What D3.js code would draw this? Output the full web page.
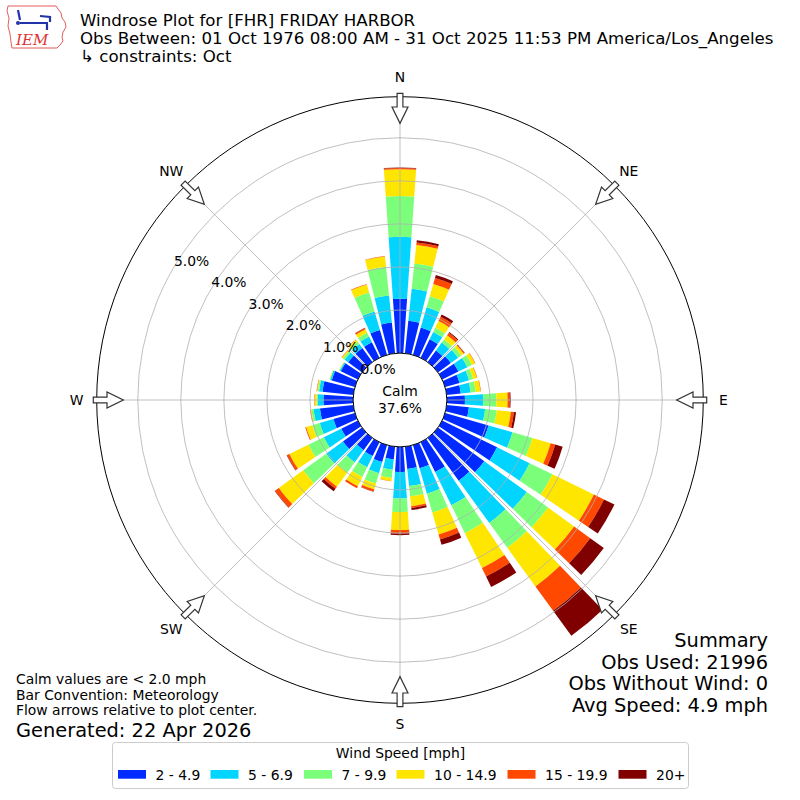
<!DOCTYPE html>
<html>
<head>
<meta charset="utf-8">
<script src="https://cdn.jsdelivr.net/npm/d3@7"></script>
<style>
  body { margin: 0; background: #fff; }
  svg { display: block; font-family: "DejaVu Sans", sans-serif; }
</style>
</head>
<body>
<svg id="chart" width="800" height="800"></svg>
<script>
// direction bins (deg, meteorological: where the wind comes from)
var directions = d3.range(0, 360, 10);
var speedBins = ['2 - 4.9', '5 - 6.9', '7 - 9.9', '10 - 14.9', '15 - 19.9', '20+'];
var binColors = ['#002aff', '#00d4ff', '#7bff7b', '#ffe600', '#ff4800', '#800000'];

// percent of obs per direction, one array per speed bin
var spd2to5 = [1.26, 0.76, 0.66, 0.48, 0.33, 0.37, 0.42, 0.35, 0.33, 0.42, 0.52, 1.05,
               1.42, 1.33, 1.23, 0.77, 0.56, 0.52, 0.58, 0.30, 0.41, 0.36, 0.35, 0.55,
               0.43, 0.52, 0.78, 0.69, 0.72, 0.56, 0.44, 0.40, 0.40, 0.40, 0.60, 0.72];
var spd5to7 = [1.44, 0.75, 0.49, 0.19, 0.23, 0.21, 0.23, 0.23, 0.23, 0.43, 0.38, 0.58,
               0.84, 1.22, 1.21, 0.86, 0.61, 0.40, 0.62, 0.24, 0.27, 0.29, 0.35, 0.48,
               0.45, 0.33, 0.15, 0.13, 0.08, 0.04, 0.03, 0.10, 0.12, 0.15, 0.45, 0.63];
var spd7to10 = [0.95, 0.59, 0.27, 0.11, 0.09, 0.09, 0.12, 0.10, 0.12, 0.30, 0.27, 0.48,
                0.59, 0.61, 0.71, 0.72, 0.46, 0.24, 0.31, 0.19, 0.25, 0.25, 0.29, 0.66,
                0.40, 0.18, 0.05, 0.03, 0.03, 0.01, 0.01, 0.05, 0.06, 0.10, 0.46, 0.67];
var spd10to15 = [0.62, 0.43, 0.29, 0.17, 0.12, 0.07, 0.08, 0.09, 0.11, 0.26, 0.33, 0.44,
                 1.07, 0.75, 1.11, 0.90, 0.53, 0.23, 0.42, 0.07, 0.14, 0.24, 0.41, 0.70,
                 0.49, 0.15, 0.02, 0.04, 0.02, 0.01, 0.01, 0.03, 0.06, 0.09, 0.19, 0.24];
var spd15to20 = [0.03, 0.06, 0.15, 0.11, 0.07, 0.02, 0.01, 0.01, 0.01, 0.05, 0.07, 0.11,
                 0.26, 0.46, 0.70, 0.22, 0.12, 0.04, 0.08, 0.01, 0.05, 0.05, 0.06, 0.11,
                 0.06, 0.02, 0.01, 0.01, 0.01, 0.00, 0.00, 0.01, 0.01, 0.03, 0.01, 0.01];
var spd20up = [0.01, 0.05, 0.07, 0.06, 0.02, 0.01, 0.00, 0.00, 0.00, 0.02, 0.05, 0.18,
               0.27, 0.39, 0.72, 0.27, 0.13, 0.05, 0.04, 0.00, 0.01, 0.00, 0.07, 0.01,
               0.01, 0.00, 0.00, 0.00, 0.00, 0.00, 0.00, 0.00, 0.00, 0.01, 0.00, 0.00];
var series = [spd2to5, spd5to7, spd7to10, spd10to15, spd15to20, spd20up];

var ringTicks = [0, 1, 2, 3, 4, 5];
var compassLabels = ['N', 'NE', 'E', 'SE', 'S', 'SW', 'W', 'NW'];
var calmPct = 37.6;

var titleLines = ['Windrose Plot for [FHR] FRIDAY HARBOR',
                  'Obs Between: 01 Oct 1976 08:00 AM - 31 Oct 2025 11:53 PM America/Los_Angeles',
                  '\u21b3 constraints: Oct'];
var noteLines = ['Calm values are < 2.0 mph', 'Bar Convention: Meteorology',
                 'Flow arrows relative to plot center.'];
var summaryLines = ['Summary', 'Obs Used: 21996', 'Obs Without Wind: 0', 'Avg Speed: 4.9 mph'];

var svg = d3.select('#chart');
var cx = 400, cy = 400, rMax = 5.953;
var r = d3.scaleLinear().domain([0, rMax]).range([46.9, 303.3]);
var rad = function(deg) { return deg * Math.PI / 180; };

var g = svg.append('g').attr('transform', 'translate(' + cx + ',' + cy + ')');

// stack the bins per direction
var stacked = [];
directions.forEach(function(dir, i) {
  var y0 = 0;
  series.forEach(function(s, k) {
    stacked.push({dir: dir, bin: k, y0: y0, y1: y0 + s[i]});
    y0 += s[i];
  });
});

var arc = d3.arc()
  .startAngle(function(d) { return rad(d.dir - 4); })
  .endAngle(function(d) { return rad(d.dir + 4); })
  .innerRadius(function(d) { return r(d.y0); })
  .outerRadius(function(d) { return r(d.y1); });

g.append('g').selectAll('path')
  .data(stacked.filter(function(d) { return d.y1 > d.y0; }))
  .enter().append('path')
  .attr('d', arc)
  .attr('fill', function(d) { return binColors[d.bin]; });

// grid on top of the bars
var grid = g.append('g').attr('fill', 'none').attr('stroke', '#b0b0b0').attr('stroke-width', 0.8);
grid.selectAll('circle').data(ringTicks.slice(1)).enter().append('circle')
  .attr('r', function(d) { return r(d); });
grid.selectAll('line').data(d3.range(0, 360, 45)).enter().append('line')
  .attr('x1', 0).attr('y1', 0)
  .attr('x2', function(d) { return Math.sin(rad(d)) * r(rMax); })
  .attr('y2', function(d) { return -Math.cos(rad(d)) * r(rMax); });

g.append('circle').attr('r', r(rMax)).attr('fill', 'none').attr('stroke', '#000').attr('stroke-width', 1);

// calm circle
g.append('circle').attr('r', r(0)).attr('fill', '#fff').attr('stroke', '#000').attr('stroke-width', 1);
g.append('text').attr('y', -4).attr('text-anchor', 'middle').attr('font-size', 13.9).text('Calm');
g.append('text').attr('y', 13).attr('text-anchor', 'middle').attr('font-size', 13.9).text(calmPct.toFixed(1) + '%');

// radial tick labels at 300 deg
g.selectAll('.rlab').data(ringTicks).enter().append('text')
  .attr('class', 'rlab')
  .attr('x', function(d) { return Math.sin(rad(300)) * r(d) + 1; })
  .attr('y', function(d) { return -Math.cos(rad(300)) * r(d) - 3; })
  .attr('font-size', 13.9)
  .text(function(d) { return d.toFixed(1) + '%'; });

// compass labels and flow arrows
var compassAngles = d3.range(0, 360, 45);
g.selectAll('.clab').data(compassAngles).enter().append('text')
  .attr('class', 'clab')
  .attr('x', function(d) { return Math.sin(rad(d)) * 323.5; })
  .attr('y', function(d) { return -Math.cos(rad(d)) * 323.5; })
  .attr('text-anchor', 'middle').attr('dominant-baseline', 'central')
  .attr('font-size', 13.9)
  .text(function(d, i) { return compassLabels[i]; });

var arrowPath = 'M-2.9,-306.7L2.9,-306.7L2.9,-293L8,-293L0,-276.7L-8,-293L-2.9,-293Z';
g.selectAll('.arrow').data(compassAngles).enter().append('path')
  .attr('class', 'arrow')
  .attr('d', arrowPath)
  .attr('transform', function(d) { return 'rotate(' + d + ')'; })
  .attr('fill', '#fff').attr('stroke', '#333').attr('stroke-width', 1.2);

// title
svg.append('g').selectAll('text').data(titleLines).enter().append('text')
  .attr('x', 80).attr('y', function(d, i) { return 25.5 + i * 18; })
  .attr('font-size', 16.67).text(function(d) { return d; });

// IEM logo (rough)
var logo = svg.append('g');
logo.append('path')
  .attr('d', 'M8,6L56,6L58,9L61,13L62,18L65,22L66,27L63,32L62,37L63,41L60,45L57,48L12,48L11,42L10,34L8,26L9,18L7,11Z')
  .attr('fill', 'none').attr('stroke', '#d33').attr('stroke-width', 0.8);
logo.append('path').attr('d', 'M20,23L48,23M18,10L20,20M40,16L50,17L50,22M47,24L47,30')
  .attr('fill', 'none').attr('stroke', '#2233aa').attr('stroke-width', 2.2);
logo.append('circle').attr('cx', 18).attr('cy', 23).attr('r', 2).attr('fill', '#2233aa');
logo.append('text').attr('x', 16).attr('y', 45).attr('font-family', 'DejaVu Serif')
  .attr('font-style', 'italic').attr('font-size', 15).attr('fill', '#d33').text('IEM');

// notes bottom-left
svg.append('g').selectAll('text').data(noteLines).enter().append('text')
  .attr('x', 16).attr('y', function(d, i) { return 684 + i * 15.5; })
  .attr('font-size', 13.9).text(function(d) { return d; });
svg.append('text').attr('x', 16).attr('y', 736.5).attr('font-size', 19.4).text('Generated: 22 Apr 2026');

// summary bottom-right
svg.append('g').selectAll('text').data(summaryLines).enter().append('text')
  .attr('x', 768).attr('y', function(d, i) { return 647 + i * 21.6; })
  .attr('text-anchor', 'end').attr('font-size', 19.4).text(function(d) { return d; });

// legend
var legend = svg.append('g');
legend.append('rect').attr('x', 112.5).attr('y', 742.5).attr('width', 576).attr('height', 46)
  .attr('rx', 3).attr('fill', '#fff').attr('stroke', '#ccc').attr('stroke-width', 1);
legend.append('text').attr('x', 400.5).attr('y', 757.5).attr('text-anchor', 'middle')
  .attr('font-size', 13.9).text('Wind Speed [mph]');
var swatchX = [118, 210.5, 304, 396.5, 507.5, 618.5];
var items = legend.selectAll('.item').data(speedBins).enter().append('g').attr('class', 'item');
items.append('rect')
  .attr('x', function(d, i) { return swatchX[i]; }).attr('y', 770)
  .attr('width', 28).attr('height', 8.7)
  .attr('fill', function(d, i) { return binColors[i]; });
items.append('text')
  .attr('x', function(d, i) { return swatchX[i] + 37.6; }).attr('y', 779.5)
  .attr('font-size', 13.9).text(function(d) { return d; });
</script>
</body>
</html>
